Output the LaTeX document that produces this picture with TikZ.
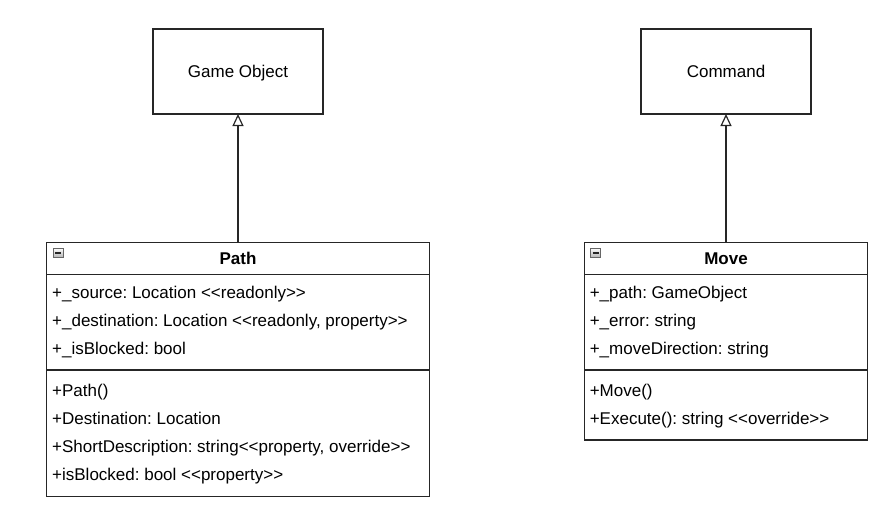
\documentclass[tikz,border=0pt]{standalone}
\usepackage{fontspec}
\setmainfont{Liberation Sans}[Ligatures=TeXOff]
\usetikzlibrary{arrows.meta}
\frenchspacing
\tikzset{%
  box/.style      = {shape=rectangle, draw=black!85, line width=1.2pt,%
                     inner sep=0pt, outer sep=0pt, text depth=0pt},%
  classbox/.style = {box, anchor=north},%
  member/.style   = {anchor=base west, inner sep=0pt},%
  collapse/.style = {shape=rectangle, draw=black!60, top color=white, bottom color=black!30,%
                     line width=0.8pt, minimum width=10pt, minimum height=9.5pt, inner sep=0pt,%
                     path picture={\draw[line width=1.4pt, black!85]
                       ([xshift=2pt]path picture bounding box.west) --
                       ([xshift=-2pt]path picture bounding box.east);}},%
  inherit/.style  = {draw=black!85, line width=1.2pt,%
                     -{Triangle[open, length=12pt, width=11pt]}}%
}

\begin{document}
\begin{tikzpicture}[x=1pt,y=-1pt,every node/.style={font=\fontsize{17}{20}\selectfont}]
  \useasboundingbox (0,0) rectangle (889,528);
  % parent classes
  \node[box, minimum width=170, minimum height=85] (gameobject) at (238,71.5) {Game Object};
  \node[box, minimum width=170, minimum height=85] (command) at (726,71.5) {Command};
  % Path
  \node[classbox, minimum width=382.6, minimum height=32] (path) at (238,242.3) {\textbf{Path}};
  \node[classbox, minimum width=382.6, minimum height=95.7] (path attrs) at (path.south) {};
  \node[classbox, minimum width=382.6, minimum height=126.7] (path ops) at (path attrs.south) {};
  \node[collapse] (path toggle) at (58,252.8) {};
  \foreach \txt [count=\i] in {{+\_source: Location <<readonly>>},
      {+\_destination: Location <<readonly, property>>},
      {+\_isBlocked: bool}}
    \node[member] at (52,270+28*\i) {\txt};
  \foreach \txt [count=\i] in {{+Path()},{+Destination: Location},
      {+ShortDescription: string<<property, override>>},
      {+isBlocked: bool <<property>>}}
    \node[member] at (52,368.4+28*\i) {\txt};
  % Move
  \node[classbox, minimum width=283, minimum height=32] (move) at (726,242.3) {\textbf{Move}};
  \node[classbox, minimum width=283, minimum height=95.7] (move attrs) at (move.south) {};
  \node[classbox, minimum width=283, minimum height=70] (move ops) at (move attrs.south) {};
  \node[collapse] (move toggle) at (595.6,252.8) {};
  \foreach \txt [count=\i] in {{+\_path: GameObject},{+\_error: string},
      {+\_moveDirection: string}}
    \node[member] at (589.6,270+28*\i) {\txt};
  \foreach \txt [count=\i] in {{+Move()},{+Execute(): string <<override>>}}
    \node[member] at (589.6,368.6+28*\i) {\txt};
  % generalisation
  \draw[inherit] (path) -- (gameobject);
  \draw[inherit] (move) -- (command);
\end{tikzpicture}
\end{document}
